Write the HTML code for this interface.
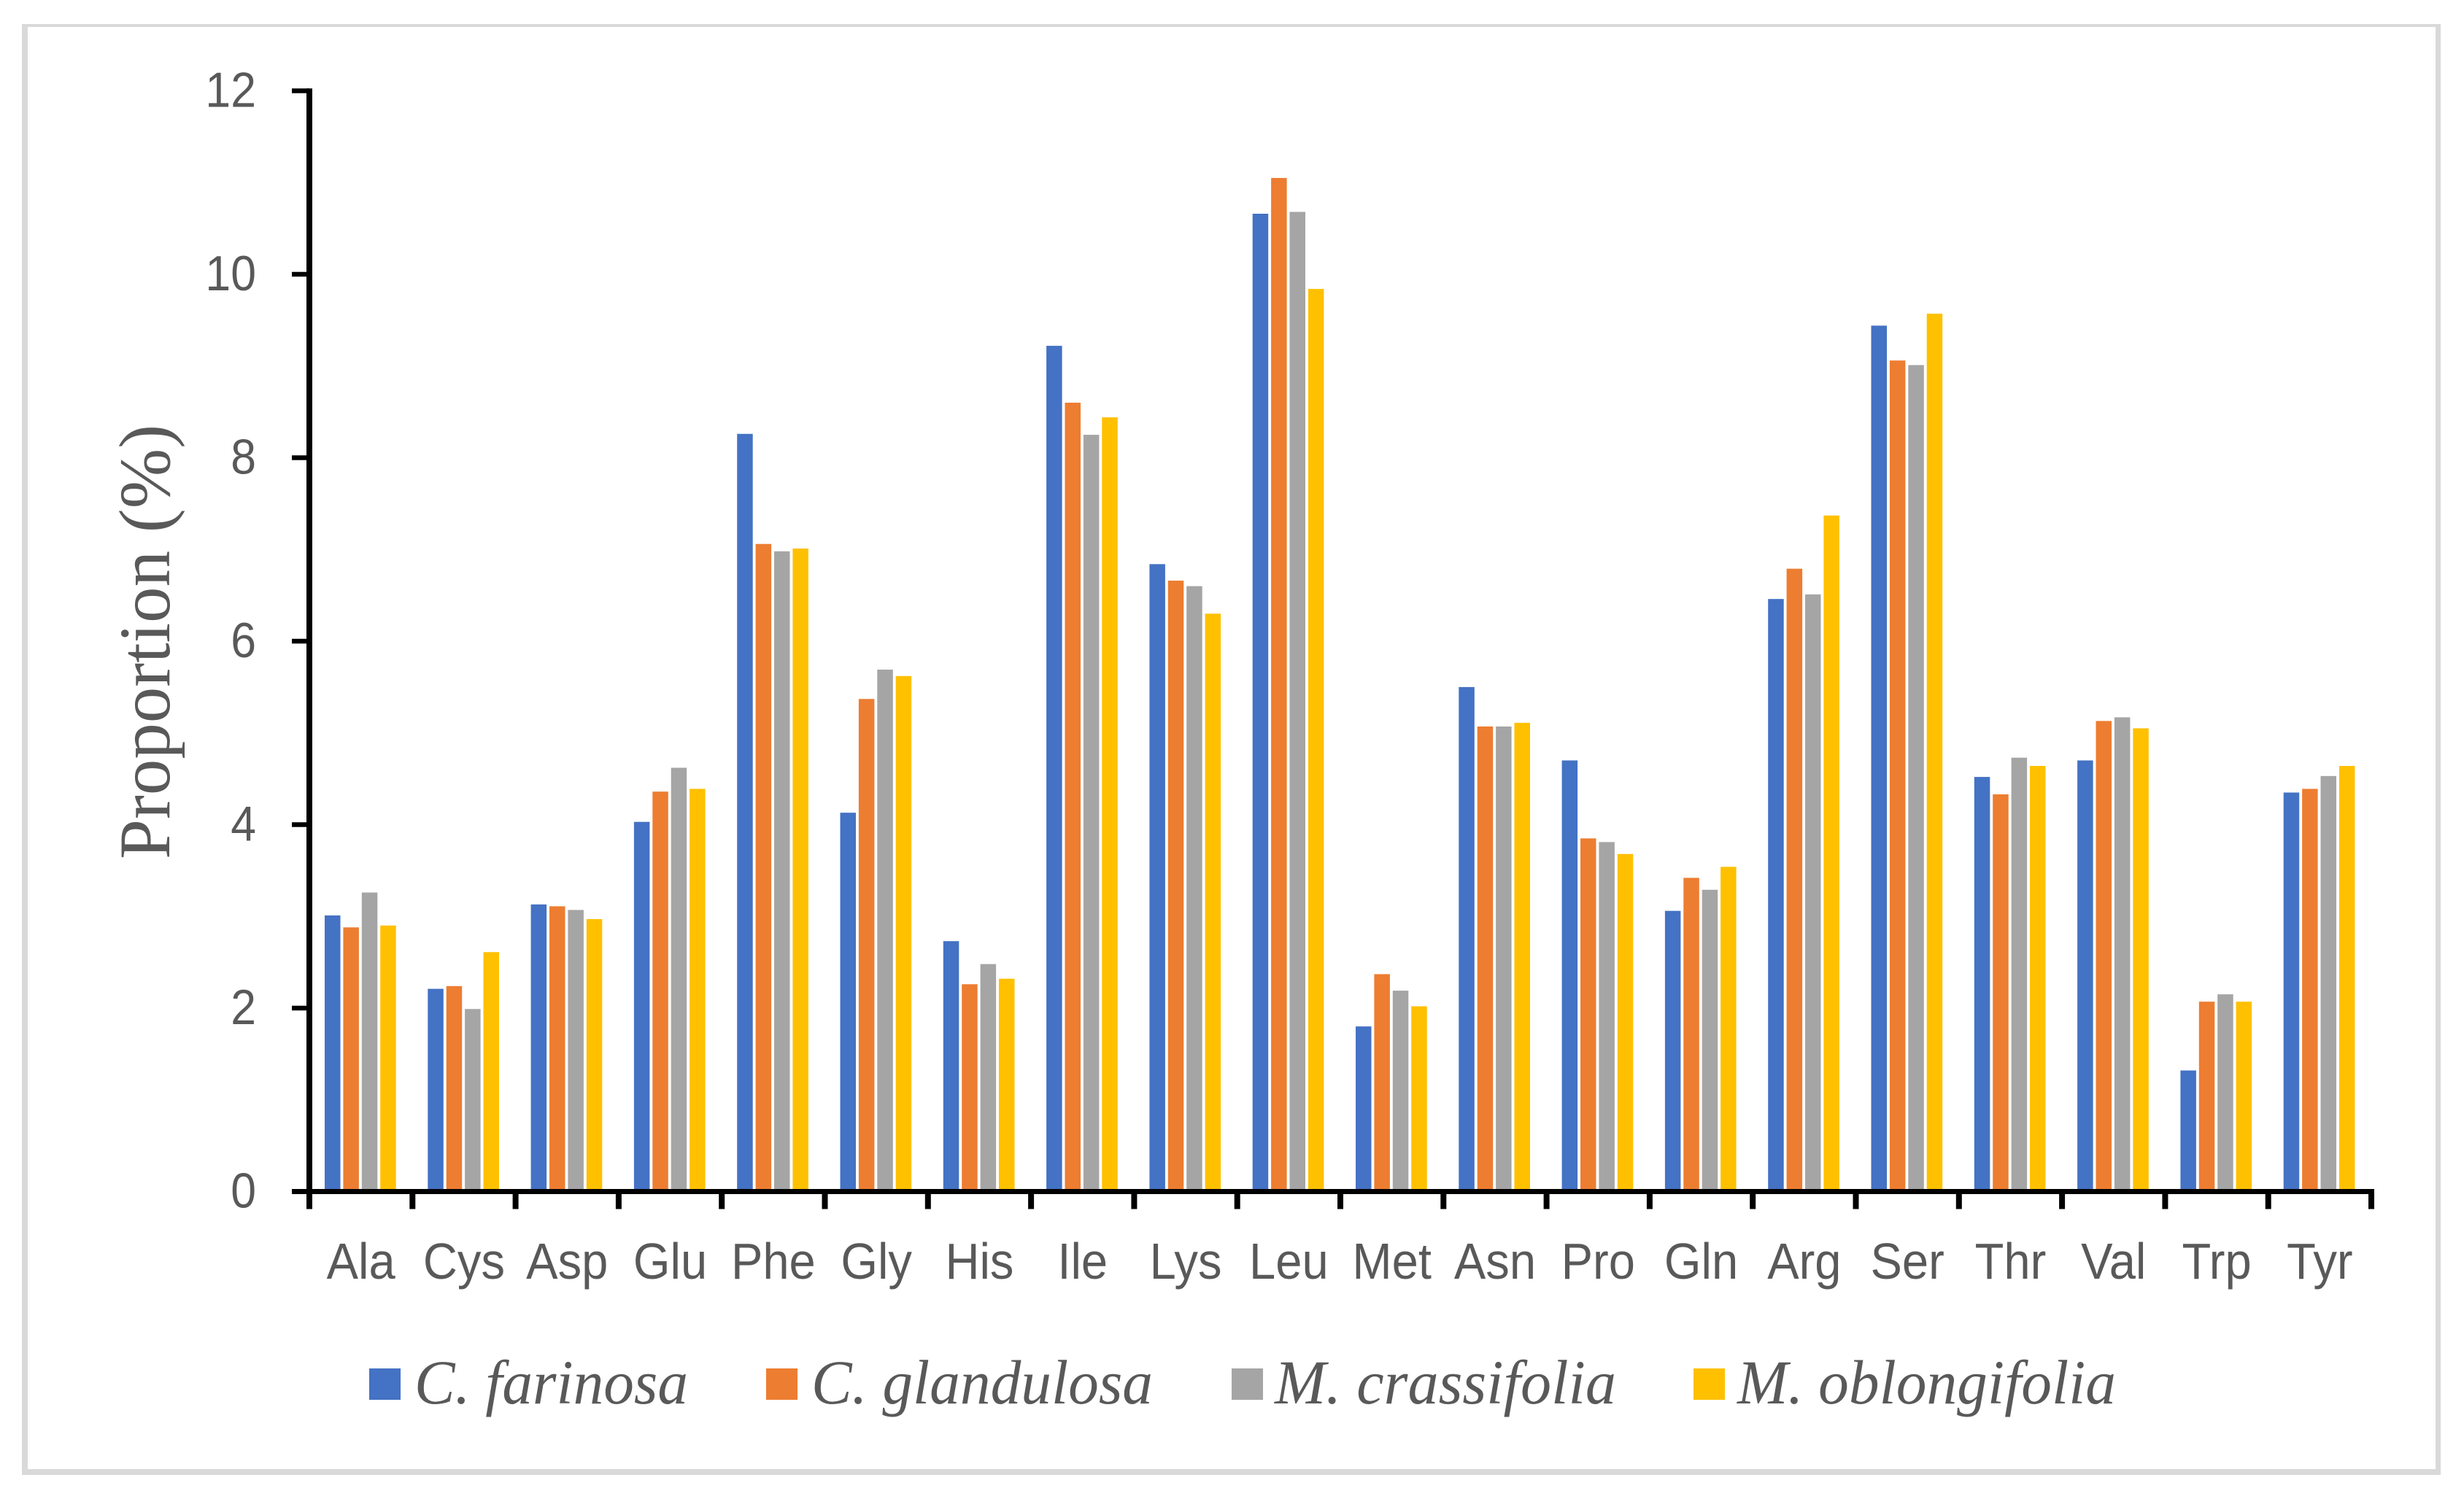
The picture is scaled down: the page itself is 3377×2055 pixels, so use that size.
<!DOCTYPE html>
<html lang="en">
<head>
<meta charset="utf-8">
<title>Amino acid proportion chart</title>
<style>
html,body{margin:0;padding:0;background:#fff;}
svg{display:block;}
text{fill:#595959;}
.sans{font-family:"Liberation Sans",sans-serif;}
.serif{font-family:"Liberation Serif",serif;}
</style>
</head>
<body>
<svg id="chart" width="3377" height="2055" viewBox="0 0 3377 2055" xmlns="http://www.w3.org/2000/svg">
  <rect x="0" y="0" width="3377" height="2055" fill="#ffffff"/>
  <g fill="#d9d9d9">
    <rect x="30" y="33" width="3315" height="4"/>
    <rect x="30" y="33" width="8" height="1989"/>
    <rect x="3338" y="33" width="7" height="1989"/>
    <rect x="30" y="2014" width="3315" height="8"/>
  </g>
  <g id="bars"></g>
  <g id="axes"></g>
  <text class="serif" font-size="100" textLength="596" lengthAdjust="spacingAndGlyphs" transform="translate(232,1178) rotate(-90)">Proportion (%)</text>
  <g>
    <g>
      <rect x="506" y="1876" width="43" height="43" fill="#4472c4"/>
      <text class="serif" font-style="italic" font-size="86" x="568" y="1924" textLength="375" lengthAdjust="spacingAndGlyphs">C. farinosa</text>
    </g>
    <g>
      <rect x="1050" y="1876" width="43" height="43" fill="#ed7d31"/>
      <text class="serif" font-style="italic" font-size="86" x="1112" y="1924" textLength="468" lengthAdjust="spacingAndGlyphs">C. glandulosa</text>
    </g>
    <g>
      <rect x="1688" y="1876" width="43" height="43" fill="#a5a5a5"/>
      <text class="serif" font-style="italic" font-size="86" x="1747" y="1924" textLength="468" lengthAdjust="spacingAndGlyphs">M. crassifolia</text>
    </g>
    <g>
      <rect x="2321" y="1876" width="43" height="43" fill="#ffc000"/>
      <text class="serif" font-style="italic" font-size="86" x="2381" y="1924" textLength="519" lengthAdjust="spacingAndGlyphs">M. oblongifolia</text>
    </g>
  </g>
</svg>
<script>
const categories = ["Ala","Cys","Asp","Glu","Phe","Gly","His","Ile","Lys","Leu","Met","Asn","Pro","Gln","Arg","Ser","Thr","Val","Trp","Tyr"];
const cFarinosa = [3.01,2.21,3.13,4.03,8.26,4.13,2.73,9.22,6.84,10.66,1.80,5.50,4.70,3.06,6.46,9.44,4.52,4.70,1.32,4.35];
const cGlandulosa = [2.88,2.24,3.11,4.36,7.06,5.37,2.26,8.60,6.66,11.05,2.37,5.07,3.85,3.42,6.79,9.06,4.33,5.13,2.07,4.39];
const mCrassifolia = [3.26,1.99,3.07,4.62,6.98,5.69,2.48,8.25,6.60,10.68,2.19,5.07,3.81,3.29,6.51,9.01,4.73,5.17,2.15,4.53];
const mOblongifolia = [2.90,2.61,2.97,4.39,7.01,5.62,2.32,8.44,6.30,9.84,2.02,5.11,3.68,3.54,7.37,9.57,4.64,5.05,2.07,4.64];
const yTicks = [0,2,4,6,8,10,12];

const NS = "http://www.w3.org/2000/svg";
const X0 = 424, X1 = 3250, Y0 = 1633.5, YTOP = 124.5, YMAX = 12;
const barsG = document.getElementById("bars");
const axesG = document.getElementById("axes");

function yScale(v){ return Y0 - (v / YMAX) * (Y0 - YTOP); }
function xBand(i){ return X0 + i * (X1 - X0) / categories.length; }

function mk(tag, attrs, parent){
  const el = document.createElementNS(NS, tag);
  for (const k in attrs) el.setAttribute(k, attrs[k]);
  parent.appendChild(el);
  return el;
}

const seriesList = [
  {key:"c-farinosa", values:cFarinosa, color:"#4472c4"},
  {key:"c-glandulosa", values:cGlandulosa, color:"#ed7d31"},
  {key:"m-crassifolia", values:mCrassifolia, color:"#a5a5a5"},
  {key:"m-oblongifolia", values:mOblongifolia, color:"#ffc000"}
];

seriesList.forEach(function(s, si){
  s.values.forEach(function(v, i){
    const top = yScale(v);
    const r = mk("rect", {x: xBand(i) + 21 + si * 25.4, y: top, width: 21.5, height: 1631 - top, fill: s.color}, barsG);
    
    
  });
});

const yLine = mk("rect", {x: X0 - 4, y: YTOP - 3.25, width: 8, height: Y0 - YTOP + 3.25, fill: "#000"}, axesG);



const xLine = mk("rect", {x: 400, y: Y0 - 3.5, width: X1 - 400 + 4, height: 7, fill: "#000"}, axesG);



yTicks.forEach(function(t){
  const y = yScale(t);
  const tick = mk("rect", {x: 400, y: y - 3.25, width: 24, height: 6.5, fill: "#000"}, axesG);
  
  
  const label = mk("text", {class: "sans", "font-size": 68, "text-anchor": "end", transform: "translate(351," + (y + 22) + ") scale(0.92,1)"}, axesG);
  
  
  label.textContent = String(t);
});

for (let i = 0; i <= categories.length; i++) {
  const tick = mk("rect", {x: xBand(i) - 4, y: Y0, width: 8, height: 24, fill: "#000"}, axesG);
  
  
}

categories.forEach(function(c, i){
  const cx = xBand(i) + (X1 - X0) / categories.length / 2;
  const label = mk("text", {class: "sans", "font-size": 70, "text-anchor": "middle", transform: "translate(" + cx + ",1753) scale(0.93,1)"}, axesG);
  
  
  label.textContent = c;
});
</script>
</body>
</html>
